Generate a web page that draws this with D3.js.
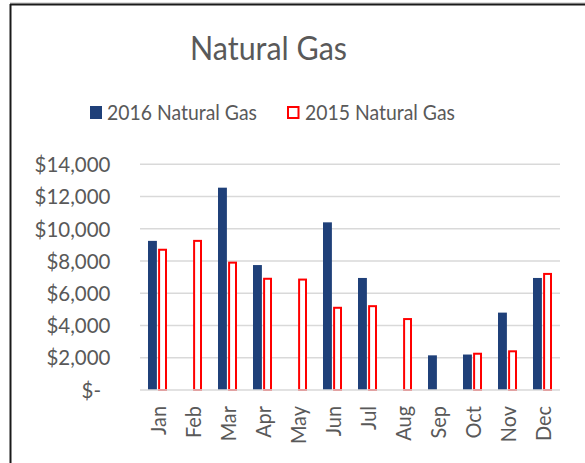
<!DOCTYPE html>
<html>
<head>
<meta charset="utf-8">
<script src="https://cdn.jsdelivr.net/npm/d3@7"></script>
<style>
  html, body { margin: 0; padding: 0; background: #fff; }
  svg { display: block; }
  text { font-family: Lato, "Open Sans", sans-serif; fill: #595959; }
</style>
</head>
<body>
<svg id="chart" width="585" height="463"></svg>
<script>
const months = ["Jan","Feb","Mar","Apr","May","Jun","Jul","Aug","Sep","Oct","Nov","Dec"];
const seriesNames = ["2016 Natural Gas", "2015 Natural Gas"];
const gas2016 = [9250, null, 12550, 7750, null, 10400, 6950, null, 2150, 2200, 4800, 6950];
const gas2015 = [8700, 9250, 7900, 6900, 6850, 5100, 5200, 4400, null, 2250, 2400, 7200];
const yTicks = [0, 2000, 4000, 6000, 8000, 10000, 12000, 14000];
const titleText = "Natural Gas";

const svg = d3.select("#chart");
const blue = "#1f4079", red = "#ff0000";

function squeeze(sel, target) {
  return target / sel.node().getComputedTextLength();
}

// border
svg.append("line").attr("x1", 10).attr("x2", 585).attr("y1", 3).attr("y2", 3).attr("stroke", "#bdbdbd").attr("stroke-width", 1);
svg.append("line").attr("x1", 10).attr("x2", 585).attr("y1", 4.5).attr("y2", 4.5).attr("stroke", "#1a1a1a").attr("stroke-width", 2);
svg.append("line").attr("x1", 10.5).attr("x2", 10.5).attr("y1", 4).attr("y2", 463).attr("stroke", "#1a1a1a").attr("stroke-width", 2);

const x = d3.scaleBand().domain(months).range([140, 560]);
const xs = d3.scaleBand().domain(seriesNames).range([-9.5, 9.5]).paddingInner(0.12);
const y = d3.scaleLinear().domain([0, 14000]).range([390, 164.3]);

// gridlines
svg.append("g").selectAll("line").data(yTicks.filter(d => d > 0)).join("line")
  .attr("x1", 140).attr("x2", 560)
  .attr("y1", d => y(d)).attr("y2", d => y(d))
  .attr("stroke", "#d9d9d9").attr("stroke-width", 1.5);

// y axis labels
const fmt = d => d === 0 ? "$-" : "$" + d3.format(",")(d);
const yItems = svg.append("g").selectAll("g").data(yTicks).join("g");
const yLab = yItems.append("text")
  .attr("dy", "0.36em")
  .attr("text-anchor", "end")
  .attr("font-size", 21.5)
  .text(fmt);
const ky = squeeze(yLab.filter(d => d === 14000), 76);
yItems.attr("transform", d => `translate(${d === 0 ? 101 : 110.5},${y(d)}) scale(${ky},1)`);

// bars
const data = months.map((m, i) => ({ m, v16: gas2016[i], v15: gas2015[i] }));
svg.append("g").selectAll("rect").data(data.filter(d => d.v16 != null)).join("rect")
  .attr("x", d => x(d.m) + x.bandwidth() / 2 + xs(seriesNames[0]))
  .attr("width", xs.bandwidth())
  .attr("y", d => y(d.v16))
  .attr("height", d => y(0) - y(d.v16))
  .attr("fill", blue);
svg.append("g").selectAll("rect").data(data.filter(d => d.v15 != null)).join("rect")
  .attr("x", d => x(d.m) + x.bandwidth() / 2 + xs(seriesNames[1]) + 1)
  .attr("width", xs.bandwidth() - 2)
  .attr("y", d => y(d.v15))
  .attr("height", d => y(0) - y(d.v15))
  .attr("fill", "#fff")
  .attr("stroke", red).attr("stroke-width", 2);

// baseline
svg.append("line").attr("x1", 140).attr("x2", 560).attr("y1", y(0)).attr("y2", y(0))
  .attr("stroke", "#d9d9d9").attr("stroke-width", 1.5);

// x labels
const xItems = svg.append("g").selectAll("g").data(months).join("g");
const xLab = xItems.append("text")
  .attr("dy", "0.36em")
  .attr("text-anchor", "end")
  .attr("font-size", 21.5)
  .text(d => d);
const kx = squeeze(xLab.filter(d => d === "Dec"), 35);
xItems.attr("transform", d => `translate(${x(d) + x.bandwidth() / 2 + 1},406) rotate(-90) scale(${kx},1)`);

// title
const titleG = svg.append("g");
const title = titleG.append("text").attr("text-anchor", "middle").attr("font-size", 33.5).text(titleText);
const kt = squeeze(title, 157);
titleG.attr("transform", `translate(268.5,60) scale(${kt},1)`);

// legend
const leg = svg.append("g");
leg.append("rect").attr("x", 90).attr("y", 106).attr("width", 12).attr("height", 13).attr("fill", blue);
leg.append("rect").attr("x", 288).attr("y", 107).attr("width", 10.5).attr("height", 11).attr("fill", "#fff")
  .attr("stroke", red).attr("stroke-width", 2);
const legItems = leg.selectAll("g.li").data([{ n: seriesNames[0], x: 107 }, { n: seriesNames[1], x: 305 }]).join("g").attr("class", "li");
const legText = legItems.append("text").attr("font-size", 21.5).text(d => d.n);
const kl = squeeze(legText.filter((d, i) => i === 0), 150);
legItems.attr("transform", d => `translate(${d.x},120) scale(${kl},1)`);
</script>
</body>
</html>
